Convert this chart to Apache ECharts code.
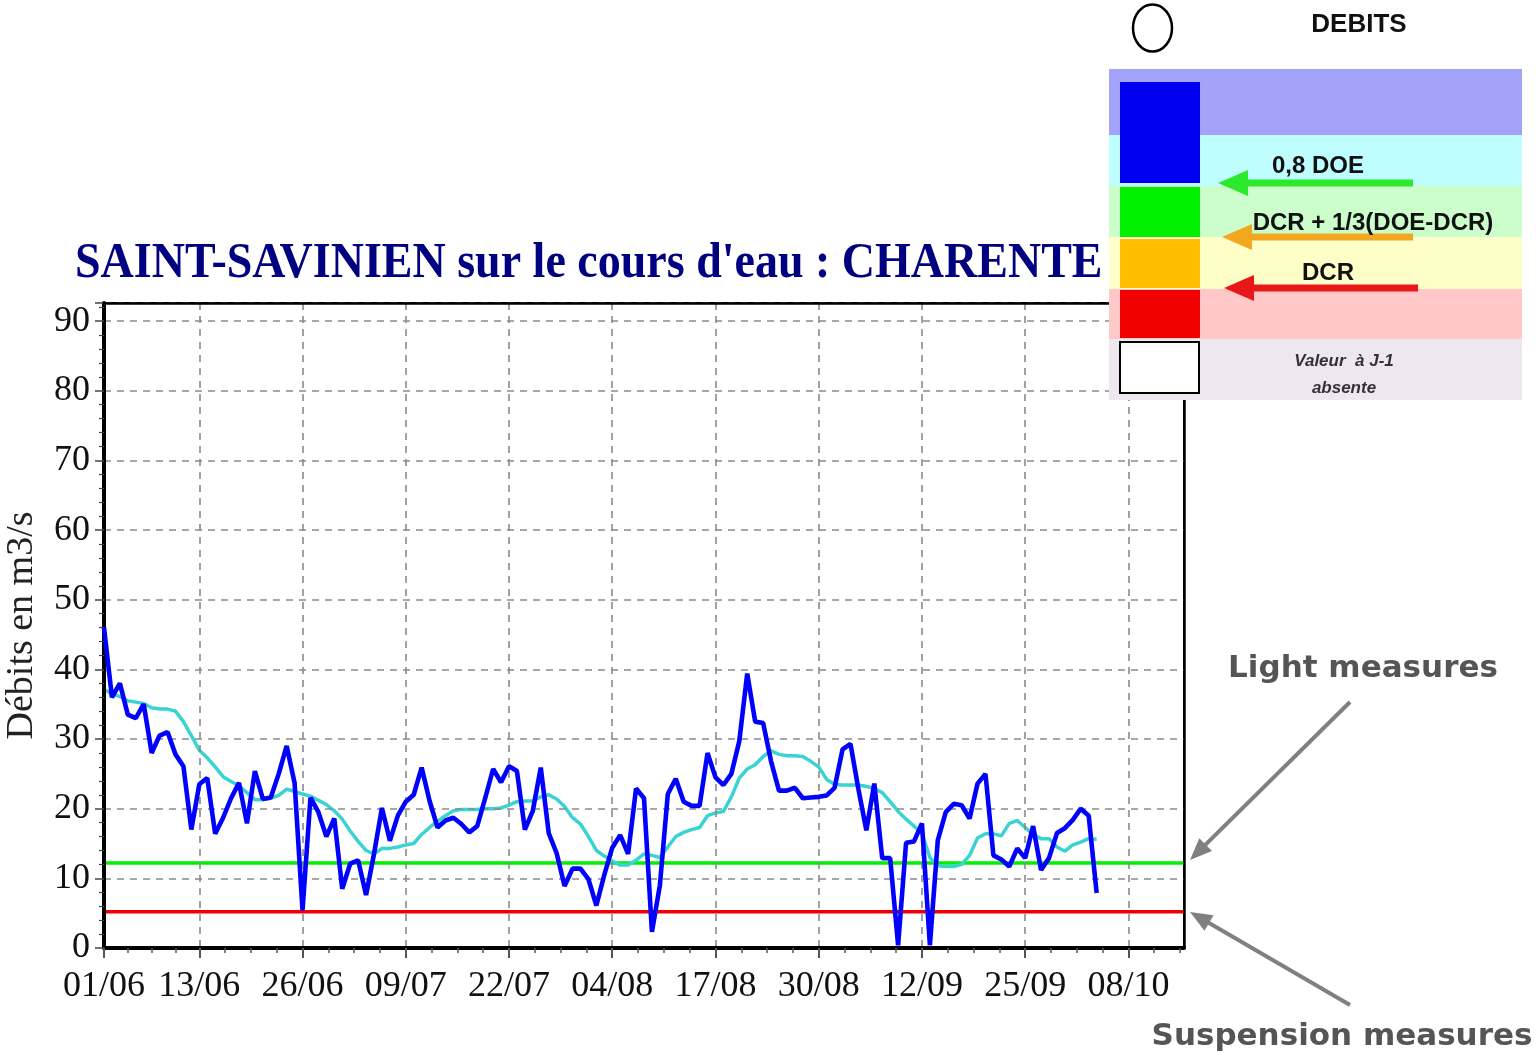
<!DOCTYPE html>
<html><head><meta charset="utf-8">
<script src="https://cdn.jsdelivr.net/npm/echarts@6/dist/echarts.min.js"></script>
<style>html,body{margin:0;padding:0;background:#fff}#c{width:1539px;height:1053px}</style>
</head><body><div id="c"></div><script>
// Day index: 1 = 01/06, 130 = 08/10, 137 = 15/10
const tickDays = [1, 13, 26, 39, 52, 65, 78, 91, 104, 117, 130];
const tickLabels = ['01/06', '13/06', '26/06', '09/07', '22/07', '04/08', '17/08', '30/08', '12/09', '25/09', '08/10'];
const yTicks = [0, 10, 20, 30, 40, 50, 60, 70, 80, 90];
const firstDay = 1;
const lastAxisDay = 137;

// Daily discharge (m3/s), from 01/06 onward
const dailyFlow = [
  46, 36, 38, 33.5, 33, 35, 28, 30.5, 31, 27.8,
  26.1, 17, 23.5, 24.4, 16.4, 18.7, 21.5, 23.7, 17.9, 25.4,
  21.4, 21.6, 25, 29, 23.7, 5.4, 21.6, 19.5, 16, 18.6,
  8.5, 12.1, 12.6, 7.6, 13.5, 20.1, 15.4, 19, 21, 22,
  25.9, 21.1, 17.3, 18.3, 18.7, 17.8, 16.6, 17.5, 21.5, 25.7,
  23.8, 26.1, 25.4, 17, 19.7, 25.9, 16.5, 13.6, 8.9, 11.4,
  11.4, 9.9, 6.1, 10.5, 14.4, 16.2, 13.5, 22.9, 21.5, 2.3,
  9, 22.1, 24.3, 21, 20.4, 20.4, 28, 24.5, 23.4, 25,
  29.7, 39.4, 32.5, 32.3, 26.8, 22.6, 22.6, 23, 21.5, 21.6,
  21.7, 21.9, 23, 28.5, 29.3, 22.8, 16.9, 23.6, 12.9, 12.9,
  0.4, 15.1, 15.3, 17.9, 0.4, 15.5, 19.5, 20.7, 20.5, 18.6,
  23.6, 25, 13.3, 12.7, 11.7, 14.3, 12.9, 17.5, 11.2, 12.9,
  16.5, 17.2, 18.4, 20, 19, 7.9
];
// Smoothed discharge (m3/s)
const smoothFlow = [
  37.1, 36.5, 36.1, 35.5, 35.3, 35.1, 34.5, 34.3, 34.3, 34,
  32.5, 30.5, 28.4, 27.3, 26, 24.6, 23.9, 23.3, 22.3, 21.3,
  21.3, 21.5, 21.9, 22.8, 22.5, 22.1, 21.8, 21.2, 20.6, 19.7,
  18.5, 16.8, 15.3, 14, 13.5, 14.3, 14.3, 14.5, 14.8, 15,
  16.3, 17.3, 18.2, 19, 19.7, 19.9, 19.9, 19.9, 20, 20,
  20.1, 20.5, 21, 21.1, 21.1, 21.7, 22, 21.4, 20.3, 18.7,
  17.8, 16, 14, 13.2, 12.5, 11.9, 11.9, 12.6, 13.5, 13.3,
  13, 14.5, 16, 16.6, 17, 17.3, 19, 19.4, 19.6, 21.7,
  24.4, 25.7, 26.3, 27.5, 28.3, 27.8, 27.6, 27.6, 27.5, 26.8,
  26, 24.2, 23.5, 23.4, 23.4, 23.4, 23.2, 22.9, 22.3, 21,
  19.6, 18.5, 17.5, 16.5, 13, 11.8, 11.7, 11.7, 12, 13.3,
  15.8, 16.4, 16.4, 16.1, 17.9, 18.3, 17.3, 16.3, 15.7, 15.7,
  14.5, 13.9, 14.8, 15.2, 15.7, 15.6
];
const doe08 = 12.2;   // 0,8 DOE (light measures)
const dcr = 5.2;      // DCR (suspension measures)

const minorTickDays = [4, 7, 10];
for (let k = 1; k <= 10; k++) { minorTickDays.push(13 * k + 3.25, 13 * k + 6.5, 13 * k + 9.75); }
minorTickDays.push(133.25, 136.5);

const labelOf = {};
tickDays.forEach((d, i) => { labelOf[d] = tickLabels[i]; });

const chart = echarts.init(document.getElementById('c'), null, { renderer: 'canvas' });

const serif = "'Liberation Serif', 'Times New Roman', serif";
const sans = "'Liberation Sans', Arial, sans-serif";

function arrow(x1, y1, x2, y2, color, w, headLen, headHalf, z) {
  const ang = Math.atan2(y2 - y1, x2 - x1);
  const bx = x2 - headLen * Math.cos(ang), by = y2 - headLen * Math.sin(ang);
  const px = -Math.sin(ang) * headHalf, py = Math.cos(ang) * headHalf;
  return [
    { type: 'line', z: z, shape: { x1: x1, y1: y1, x2: bx + (x2 - bx) * 0.2, y2: by + (y2 - by) * 0.2 }, style: { stroke: color, lineWidth: w } },
    { type: 'polygon', z: z, shape: { points: [[x2, y2], [bx + px, by + py], [bx - px, by - py]] }, style: { fill: color } }
  ];
}

const graphics = [];
// Title
graphics.push({ type: 'text', z: 50, x: 75, y: 264, scaleY: 1.12,
  style: { text: "SAINT-SAVINIEN sur le cours d'eau : CHARENTE", x: 0, y: 0, font: 'bold 46px ' + serif, fill: '#000080', textAlign: 'left', textVerticalAlign: 'middle' } });
// Legend panel
const bands = [[69, 135, '#a3a3fa'], [135, 186, '#bffefe'], [186, 237, '#ccfecc'], [237, 289, '#fefec8'], [289, 339, '#fec8c8'], [339, 400, '#ece8ee']];
bands.forEach(b => graphics.push({ type: 'rect', z: 100, shape: { x: 1109, y: b[0], width: 413, height: b[1] - b[0] }, style: { fill: b[2] } }));
const blocks = [[82, 183, '#0000f0'], [187, 237, '#00f000'], [239, 288, '#ffbf00'], [290, 338, '#f00000']];
blocks.forEach(b => graphics.push({ type: 'rect', z: 101, shape: { x: 1120, y: b[0], width: 80, height: b[1] - b[0] }, style: { fill: b[2] } }));
graphics.push({ type: 'rect', z: 101, shape: { x: 1120, y: 342, width: 79, height: 51 }, style: { fill: '#fff', stroke: '#000', lineWidth: 2 } });
arrow(1413, 183, 1218, 183, '#2ee82e', 7, 30, 13, 102).forEach(g => graphics.push(g));
arrow(1413, 237, 1222, 237, '#f2a71e', 7, 30, 13, 102).forEach(g => graphics.push(g));
arrow(1418, 288, 1224, 288, '#e81818', 7, 30, 13, 102).forEach(g => graphics.push(g));
const legTexts = [
  ['DEBITS', 1359, 25, 'bold 26px ' + sans, '#111'],
  ['0,8 DOE', 1318, 166, 'bold 24px ' + sans, '#111'],
  ['DCR + 1/3(DOE-DCR)', 1373, 223, 'bold 24px ' + sans, '#111'],
  ['DCR', 1328, 273, 'bold 24px ' + sans, '#111'],
  ['Valeur  à J-1', 1344, 361, 'italic bold 17px ' + sans, '#333'],
  ['absente', 1344, 388, 'italic bold 17px ' + sans, '#333']
];
legTexts.forEach(t => graphics.push({ type: 'text', z: 103, style: { text: t[0], x: t[1], y: t[2], font: t[3], fill: t[4], textAlign: 'center', textVerticalAlign: 'middle' } }));
graphics.push({ type: 'ellipse', z: 103, shape: { cx: 1152.5, cy: 28, rx: 19.5, ry: 23.5 }, style: { fill: 'none', stroke: '#000', lineWidth: 2.5 } });
// Annotations
graphics.push({ type: 'text', z: 103, style: { text: 'Light measures', x: 1363, y: 669, font: "bold 31px 'DejaVu Sans', Verdana, sans-serif", fill: '#555', textAlign: 'center', textVerticalAlign: 'middle' } });
graphics.push({ type: 'text', z: 103, style: { text: 'Suspension measures', x: 1342, y: 1037, font: "bold 31px 'DejaVu Sans', Verdana, sans-serif", fill: '#555', textAlign: 'center', textVerticalAlign: 'middle' } });
arrow(1350, 702, 1190, 860, '#808080', 4, 22, 9, 103).forEach(g => graphics.push(g));
arrow(1350, 1005, 1190, 912, '#808080', 4, 22, 9, 103).forEach(g => graphics.push(g));

const option = {
  backgroundColor: '#ffffff',
  animation: false,
  grid: { left: 104, right: 355, top: 303, bottom: 105, containLabel: false, outerBoundsMode: 'none', show: true, borderColor: '#000', borderWidth: 2, backgroundColor: 'transparent' },
  xAxis: [
    {
      type: 'value', min: firstDay, max: lastAxisDay, position: 'bottom', z: 4,
      axisLine: { show: true, onZero: false, lineStyle: { color: '#000', width: 4 } },
      axisTick: { show: true, customValues: tickDays, length: 10, lineStyle: { color: '#555', width: 2 } },
      axisLabel: { customValues: tickDays, formatter: v => labelOf[Math.round(v)] || '', color: '#111', fontFamily: serif, fontSize: 36, margin: 21 },
      splitLine: { show: true, lineStyle: { color: '#8a8a8a', width: 1.6, type: [7, 6] } }
    },
    {
      type: 'value', min: firstDay, max: lastAxisDay, position: 'bottom', z: 4,
      axisLine: { show: false },
      axisTick: { show: true, customValues: minorTickDays, length: 5, lineStyle: { color: '#555', width: 1.5 } },
      axisLabel: { show: false }, splitLine: { show: false }
    },
    {
      type: 'value', min: firstDay, max: lastAxisDay, position: 'top', z: 5,
      axisLine: { show: true, onZero: false, lineStyle: { color: '#000', width: 2.5 } },
      axisTick: { show: false }, axisLabel: { show: false }, splitLine: { show: false }
    }
  ],
  yAxis: [
    {
      type: 'value', min: 0, max: 92.6, interval: 10, z: 4,
      name: 'Débits en m3/s', nameLocation: 'middle', nameGap: 63, nameRotate: 90,
      nameTextStyle: { fontFamily: serif, fontSize: 38, color: '#222' },
      axisLine: { show: true, onZero: false, lineStyle: { color: '#000', width: 4 } },
      axisTick: { show: true, length: 9, lineStyle: { color: '#444', width: 1.5 } },
      minorTick: { show: true, splitNumber: 5, length: 5, lineStyle: { color: '#444', width: 1.2 } },
      axisLabel: { showMaxLabel: false, formatter: v => (yTicks.indexOf(v) >= 0 ? String(v) : ''), color: '#111', fontFamily: serif, fontSize: 36, margin: 14 },
      splitLine: { show: true, lineStyle: { color: '#8a8a8a', width: 1.6, type: [7, 6] } }
    },
    {
      type: 'value', min: 0, max: 92.6, position: 'right', z: 5,
      axisLine: { show: true, onZero: false, lineStyle: { color: '#000', width: 2.5 } },
      axisTick: { show: false }, axisLabel: { show: false }, splitLine: { show: false }
    }
  ],
  series: [
    { type: 'line', name: '0,8 DOE', data: [[firstDay, doe08], [lastAxisDay, doe08]], symbol: 'none', lineStyle: { color: '#00f000', width: 3.5 }, z: 2 },
    { type: 'line', name: 'DCR', data: [[firstDay, dcr], [lastAxisDay, dcr]], symbol: 'none', lineStyle: { color: '#f00000', width: 3.5 }, z: 2 },
    { type: 'line', name: 'moyenne', data: smoothFlow.map((v, i) => [firstDay + i, v]), symbol: 'none', lineStyle: { color: '#3ad3d3', width: 3.5 }, z: 3 },
    { type: 'line', name: 'débit', data: dailyFlow.map((v, i) => [firstDay + i, v]), symbol: 'none', lineStyle: { color: '#0000ff', width: 4.6 }, z: 4 }
  ],
  graphic: graphics
};
chart.setOption(option);
</script></body></html>
